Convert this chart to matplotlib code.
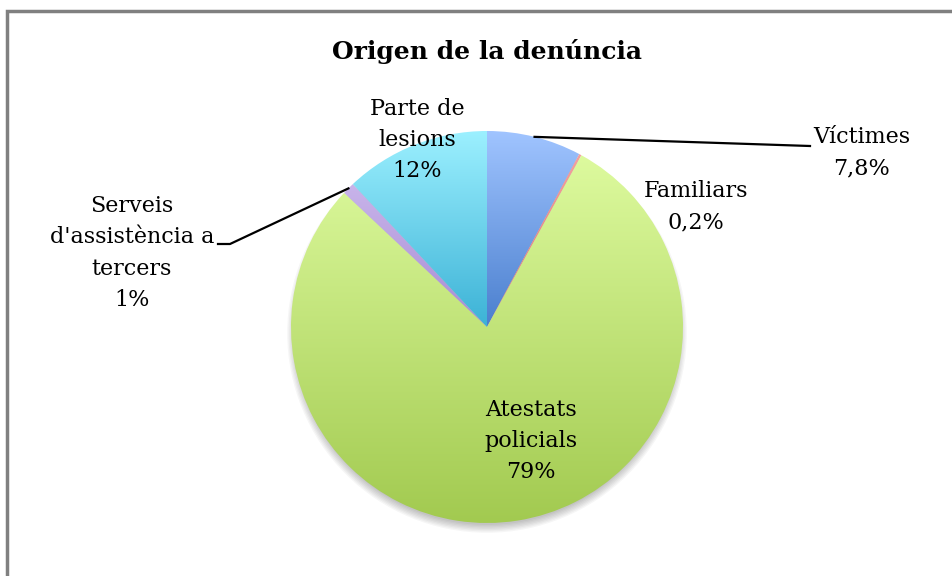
import numpy as np
import matplotlib
matplotlib.use('Agg')
import matplotlib.pyplot as plt
from matplotlib.colors import LinearSegmentedColormap
from matplotlib.patches import Circle, Rectangle

# data
labels = ['Víctimes', 'Familiars', 'Atestats\npolicials', "Serveis\nd'assistència a\ntercers", 'Parte de\nlesions']
values = [7.8, 0.2, 79, 1, 12]
pct_text = ['7,8%', '0,2%', '79%', '1%', '12%']
top_colors = ['#a0c4ff', '#f4a0a0', '#ddfa9e', '#c8b4ea', '#9cf0ff']
bot_colors = ['#4a7fce', '#e27070', '#a2ca50', '#a88cd4', '#3cb2d6']

W, H = 953, 576
fig = plt.figure(figsize=(W / 100, H / 100), dpi=100)
ax = fig.add_axes([0, 0, 1, 1])
ax.set_xlim(0, W)
ax.set_ylim(0, H)
ax.axis('off')

cx, cy, r = 487, H - 327, 196
font = 'DejaVu Serif'

# soft shadow under the pie
for k in range(7):
    ax.add_patch(Circle((cx, cy - 6), r - 4 + k * 1.3, color='black', alpha=0.035, lw=0, zorder=1))

wedges, _ = ax.pie(values, startangle=90, counterclock=False, center=(cx, cy), radius=r,
                   wedgeprops=dict(linewidth=0, zorder=2))

for w, c1, c2 in zip(wedges, top_colors, bot_colors):
    w.set_facecolor('none')
    bb = w.get_path().get_extents(w.get_transform() - ax.transData)
    cmap = LinearSegmentedColormap.from_list('g', [c2, c1])
    grad = np.linspace(0, 1, 256).reshape(-1, 1)
    im = ax.imshow(grad, extent=[bb.x0, bb.x1, bb.y0, bb.y1], origin='lower', cmap=cmap,
                   aspect='auto', zorder=2, interpolation='bilinear')
    im.set_clip_path(w)

ax.set_xlim(0, W)
ax.set_ylim(0, H)

# label text
lab_pos = [(862, H - 153), (696, H - 207), (531, H - 441), (132, H - 253), (417, H - 140)]
for lab, p, (x, y) in zip(labels, pct_text, lab_pos):
    ax.text(x, y, lab + '\n' + p, ha='center', va='center', fontsize=16, family=font,
            linespacing=1.53, zorder=5)

# leader lines
def rim_point(w):
    a = np.deg2rad((w.theta1 + w.theta2) / 2)
    return cx + r * np.cos(a), cy + r * np.sin(a)

x0, y0 = rim_point(wedges[0])
ax.plot([x0, 810], [y0, H - 146], color='black', lw=1.6, zorder=4)
x0, y0 = rim_point(wedges[3])
ax.plot([x0, 230, 218], [y0, H - 244, H - 244], color='black', lw=1.6, zorder=4)

ax.text(487, H - 52, 'Origen de la denúncia', ha='center', va='center', fontsize=18,
        fontweight='bold', family=font)

# chart border
ax.add_patch(Rectangle((7.5, -20), W + 20, H - 10.5 + 20, fill=False, edgecolor='#808080', lw=2.5,
                       zorder=6))

fig.savefig('out.png', dpi=100)
